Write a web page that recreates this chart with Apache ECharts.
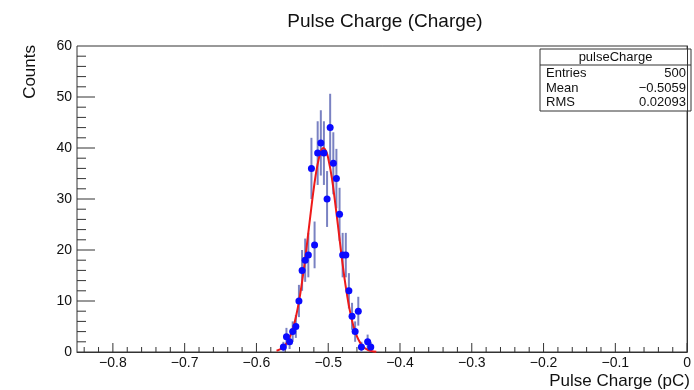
<!DOCTYPE html>
<html>
<head>
<meta charset="utf-8">
<script src="https://cdn.jsdelivr.net/npm/echarts@6/dist/echarts.min.js"></script>
<style>
    html, body { margin: 0; padding: 0; background: #fff; }
    #chart { width: 694px; height: 390px; }
</style>
</head>
<body>
<div id="chart"></div>
<script>
// histogram bins (pC, counts)
const bin_centers = [
    -0.5625, -0.5582, -0.5538, -0.5495, -0.5451, -0.5408, -0.5364, -0.5321,
    -0.5277, -0.5234, -0.519, -0.5147, -0.5103, -0.506, -0.5016, -0.4973,
    -0.4929, -0.4886, -0.4842, -0.4799, -0.4755, -0.4712, -0.4668, -0.4625,
    -0.4581, -0.4538, -0.4494, -0.4451, -0.4407,
];
const bin_counts = [
    1, 3, 2, 4, 5, 10, 16, 18,
    19, 36, 21, 39, 41, 39, 30, 44,
    37, 34, 27, 19, 19, 12, 7, 4,
    8, 1, 0, 2, 1,
];

// red fit curve
const fit_x = [
    -0.572, -0.565, -0.56, -0.555, -0.55, -0.545, -0.54, -0.535, -0.53,
    -0.525, -0.52, -0.515, -0.51, -0.5065, -0.503, -0.5, -0.495, -0.49, -0.485,
    -0.48, -0.475, -0.47, -0.465, -0.46, -0.455, -0.45, -0.445, -0.44, -0.433,
];
const fit_y = [
    0.25, 0.68, 1.33, 2.44, 4.21, 6.86, 10.5, 15.2, 20.7,
    26.6, 32.2, 36.7, 39.4, 40.0, 39.4, 38.0, 34.2, 28.9, 23.1,
    17.3, 12.3, 8.2, 5.16, 3.05, 1.7, 0.9, 0.44, 0.21, 0.07,
];

const x_ticks = [-0.8, -0.7, -0.6, -0.5, -0.4, -0.3, -0.2, -0.1, 0];
const y_ticks = [0, 10, 20, 30, 40, 50, 60];
const stats_rows = [
    ["Entries", "500"],
    ["Mean", "\u22120.5059"],
    ["RMS", "0.02093"],
];

const X_MIN = -0.85, X_MAX = 0, Y_MIN = 0, Y_MAX = 60;
const FONT = "Liberation Sans, Arial, sans-serif";
const AXIS_COLOR = "#333";

// root style ticks, drawn inside the frame: [axis, value, length]
const frame_ticks = [];
for (let i = -42; i <= 0; i++) {
    frame_ticks.push(["x", +(i * 0.02).toFixed(2), i % 5 === 0 ? 9 : 5]);
}
for (let c = 2; c < 60; c += 2) {
    frame_ticks.push(["y", c, c % 10 === 0 ? 18 : 9]);
}

const fmt_x = (v) => (Math.abs(v) < 1e-9 ? "0" : v.toFixed(1).replace("-", "\u2212"));

// root draws no marker for empty bins
const hist_points = bin_centers
    .map((x, i) => [x, bin_counts[i]])
    .filter((p) => p[1] > 0);
const err_bars = hist_points.map(([x, n]) => [x, n - Math.sqrt(n), n + Math.sqrt(n)]);

const chart = echarts.init(document.getElementById("chart"), null, { renderer: "canvas" });

const stats_left = 540, stats_top = 49, stats_w = 151;

chart.setOption({
    animation: false,
    grid: {
        left: 77, right: 3, top: 46, bottom: 38,
        show: true, borderColor: AXIS_COLOR, borderWidth: 1,
        backgroundColor: "transparent",
    },
    xAxis: {
        type: "value", min: X_MIN, max: X_MAX,
        axisLine: { show: true, lineStyle: { color: AXIS_COLOR } },
        axisTick: { show: false },
        axisLabel: {
            customValues: x_ticks, formatter: fmt_x,
            fontFamily: FONT, fontSize: 14, color: "#111", margin: 4,
        },
        splitLine: { show: false },
    },
    yAxis: {
        type: "value", min: Y_MIN, max: Y_MAX,
        axisLine: { show: true, lineStyle: { color: AXIS_COLOR } },
        axisTick: { show: false },
        axisLabel: {
            customValues: y_ticks,
            fontFamily: FONT, fontSize: 14, color: "#111", margin: 5,
        },
        splitLine: { show: false },
    },
    series: [
        {
            name: "ticks",
            type: "custom",
            data: frame_ticks.map(([axis, v, len]) => [axis === "x" ? 0 : 1, v, len]),
            silent: true,
            clip: false,
            z: 1,
            renderItem: (params, api) => {
                const is_y = api.value(0) === 1;
                const v = api.value(1);
                const len = api.value(2);
                const p = is_y ? api.coord([X_MIN, v]) : api.coord([v, Y_MIN]);
                const end = is_y ? [p[0] + len, p[1]] : [p[0], p[1] - len];
                return {
                    type: "line",
                    shape: { x1: p[0], y1: p[1], x2: end[0], y2: end[1] },
                    style: { stroke: AXIS_COLOR, lineWidth: 1 },
                };
            },
        },
        {
            name: "errors",
            type: "custom",
            data: err_bars,
            z: 2,
            renderItem: (params, api) => {
                const top = api.coord([api.value(0), api.value(2)]);
                const bot = api.coord([api.value(0), api.value(1)]);
                return {
                    type: "line",
                    shape: { x1: top[0], y1: top[1], x2: bot[0], y2: bot[1] },
                    style: { stroke: "#7a82c2", lineWidth: 2 },
                };
            },
        },
        {
            name: "fit",
            type: "line",
            data: fit_x.map((x, i) => [x, fit_y[i]]),
            smooth: 0.4,
            showSymbol: false,
            lineStyle: { color: "#ee1a1a", width: 2 },
            z: 3,
        },
        {
            name: "pulseCharge",
            type: "scatter",
            data: hist_points,
            symbol: "circle",
            symbolSize: 7,
            itemStyle: { color: "#0a0aff", opacity: 1 },
            z: 4,
        },
    ],
    graphic: [
        {
            type: "text", x: 385, y: 22,
            style: {
                text: "Pulse Charge (Charge)", font: `19px ${FONT}`, fill: "#111",
                align: "center", verticalAlign: "middle",
            },
        },
        {
            type: "text", x: 690, y: 381,
            style: {
                text: "Pulse Charge (pC)", font: `17px ${FONT}`, fill: "#111",
                align: "right", verticalAlign: "middle",
            },
        },
        {
            type: "text", x: 30, y: 45, rotation: Math.PI / 2,
            style: {
                text: "Counts", font: `17px ${FONT}`, fill: "#111",
                align: "right", verticalAlign: "middle",
            },
        },
        {
            type: "group",
            z: 100,
            children: [
                {
                    type: "rect",
                    shape: { x: stats_left, y: stats_top, width: stats_w, height: 62 },
                    style: { fill: "#fff", stroke: AXIS_COLOR, lineWidth: 1 },
                },
                {
                    type: "line",
                    shape: { x1: stats_left, y1: stats_top + 16, x2: stats_left + stats_w, y2: stats_top + 16 },
                    style: { stroke: AXIS_COLOR, lineWidth: 1 },
                },
                {
                    type: "text", x: stats_left + stats_w / 2, y: stats_top + 8.5,
                    style: {
                        text: "pulseCharge", font: `13px ${FONT}`, fill: "#111",
                        align: "center", verticalAlign: "middle",
                    },
                },
                ...stats_rows.flatMap(([k, v], i) => [
                    {
                        type: "text", x: stats_left + 6, y: stats_top + 24.5 + i * 14.5,
                        style: { text: k, font: `13px ${FONT}`, fill: "#111", verticalAlign: "middle" },
                    },
                    {
                        type: "text", x: stats_left + stats_w - 5, y: stats_top + 24.5 + i * 14.5,
                        style: {
                            text: v, font: `13px ${FONT}`, fill: "#111",
                            align: "right", verticalAlign: "middle",
                        },
                    },
                ]),
            ],
        },
    ],
});
</script>
</body>
</html>
